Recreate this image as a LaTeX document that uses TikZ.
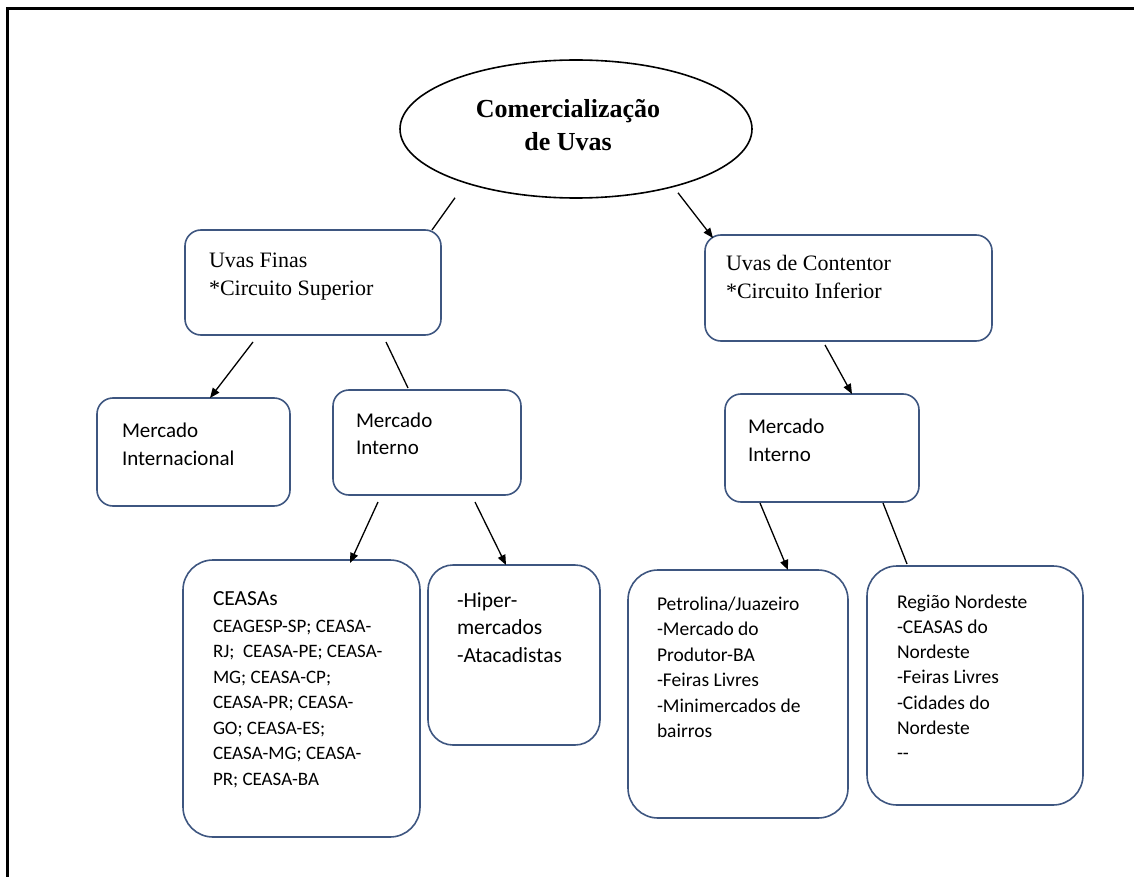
\documentclass[tikz,border=0pt]{standalone}
\usepackage{fontspec}
\setmainfont{Liberation Serif}
\newfontfamily\carlitofont{Carlito}
\usetikzlibrary{shapes.geometric,arrows.meta,calc}
\definecolor{boxblue}{RGB}{62,86,128}
\tikzset{
  frame/.style={line width=3pt,black},
  box/.style={draw=boxblue,line width=1.6pt,rectangle,inner sep=0pt,outer sep=0pt,anchor=north west},
  txt/.style={anchor=north west,align=left,inner sep=0pt,outer sep=0pt},
  conn/.style={line width=1.3pt,black},
  arr/.style={conn,-{Triangle[length=10pt,width=8pt]}},
}
\newcommand{\fl}[1]{\rule{0pt}{#1pt}}
\begin{document}
\begin{tikzpicture}[x=1pt,y=-1pt]
\useasboundingbox (0,0) rectangle (1134,877);
\draw[frame] (7,880) -- (7,9) -- (1137,9);

% title ellipse
\node[draw,ellipse,line width=1.6pt,minimum width=352pt,minimum height=138pt,inner sep=0pt] (el) at (576,129) {};
\node[anchor=north,align=center,inner sep=0pt,font=\fontsize{26}{33}\selectfont\bfseries] (eltxt) at (568,87) {\fl{30}Comercialização\\de Uvas};

% boxes
\node[box,rounded corners=16pt,minimum width=256pt,minimum height=105pt] (uf) at (185,230) {};
\node[box,rounded corners=16pt,minimum width=287pt,minimum height=106pt] (uc) at (705,235) {};
\node[box,rounded corners=16pt,minimum width=193pt,minimum height=108pt] (mint) at (97,398) {};
\node[box,rounded corners=16pt,minimum width=188pt,minimum height=105pt] (mi1) at (333,390) {};
\node[box,rounded corners=16pt,minimum width=194pt,minimum height=108pt] (mi2) at (725,394) {};
\node[box,rounded corners=30pt,minimum width=237pt,minimum height=277pt] (ceasa) at (183,560) {};
\node[box,rounded corners=25pt,minimum width=172pt,minimum height=180pt] (hiper) at (428,565) {};
\node[box,rounded corners=30pt,minimum width=220pt,minimum height=248pt] (petro) at (628,570) {};
\node[box,rounded corners=30pt,minimum width=216pt,minimum height=239pt] (nord) at (867,566) {};

% texts
\node[txt,font=\fontsize{22}{28}\selectfont] (uft) at (209,247) {\fl{20}Uvas Finas\\*Circuito Superior};
\node[txt,font=\fontsize{22}{28}\selectfont] (uct) at (726,250) {\fl{20}Uvas de Contentor\\*Circuito Inferior};
\node[txt,font=\carlitofont\fontsize{21}{28}\selectfont] (mintt) at (122,417) {\fl{20}Mercado\\Internacional};
\node[txt,font=\carlitofont\fontsize{21}{27.5}\selectfont] (mi1t) at (356,407) {\fl{20}Mercado\\Interno};
\node[txt,font=\carlitofont\fontsize{21}{28}\selectfont] (mi2t) at (748,413) {\fl{20}Mercado\\Interno};
\node[txt,font=\carlitofont\fontsize{21.5}{26}\selectfont] (ceasat) at (213,585) {\fl{20}CEASAs};
\node[txt,font=\carlitofont\fontsize{19}{25.5}\selectfont] (ceasal) at (213,612) {\fl{20}CEAGESP-SP; CEASA-\\RJ;\ \ CEASA-PE; CEASA-\\MG; CEASA-CP;\\CEASA-PR; CEASA-\\GO; CEASA-ES;\\CEASA-MG; CEASA-\\PR; CEASA-BA};
\node[txt,font=\carlitofont\fontsize{21.5}{27.5}\selectfont] (hipert) at (457,587) {\fl{20}-Hiper-\\mercados\\-Atacadistas};
\node[txt,font=\carlitofont\fontsize{19.5}{25.5}\selectfont] (petrot) at (657,590) {\fl{20}Petrolina/Juazeiro\\-Mercado do\\Produtor-BA\\-Feiras Livres\\-Minimercados de\\bairros};
\node[txt,font=\carlitofont\fontsize{19.5}{25.3}\selectfont] (nordt) at (897,588) {\fl{20}Região Nordeste\\-CEASAS do\\Nordeste\\-Feiras Livres\\-Cidades do\\Nordeste\\--};

% connectors
\draw[conn] ($(el.south)+(-121,-1)$) -- ($(uf.north east)+(-9,0)$);
\draw[arr] ($(el.south)+(102,-6)$) -- ($(uc.north west)+(8,3)$);
\draw[arr] ($(uf.south west)+(68,7)$) -- ($(mint.north west)+(113,0)$);
\draw[conn] ($(uf.south west)+(201,7)$) -- ($(mi1.north west)+(75,-2)$);
\draw[arr] ($(mi1.south west)+(45,7)$) -- ($(ceasa.north west)+(167,3)$);
\draw[arr] ($(mi1.south west)+(142,7)$) -- ($(hiper.north west)+(78,0)$);
\draw[arr] ($(uc.south west)+(120,4)$) -- ($(mi2.north west)+(127,0)$);
\draw[arr] ($(mi2.south west)+(35,1)$) -- ($(petro.north west)+(160,0)$);
\draw[conn] ($(mi2.south west)+(158,1)$) -- ($(nord.north west)+(40,-2)$);
\end{tikzpicture}
\end{document}
